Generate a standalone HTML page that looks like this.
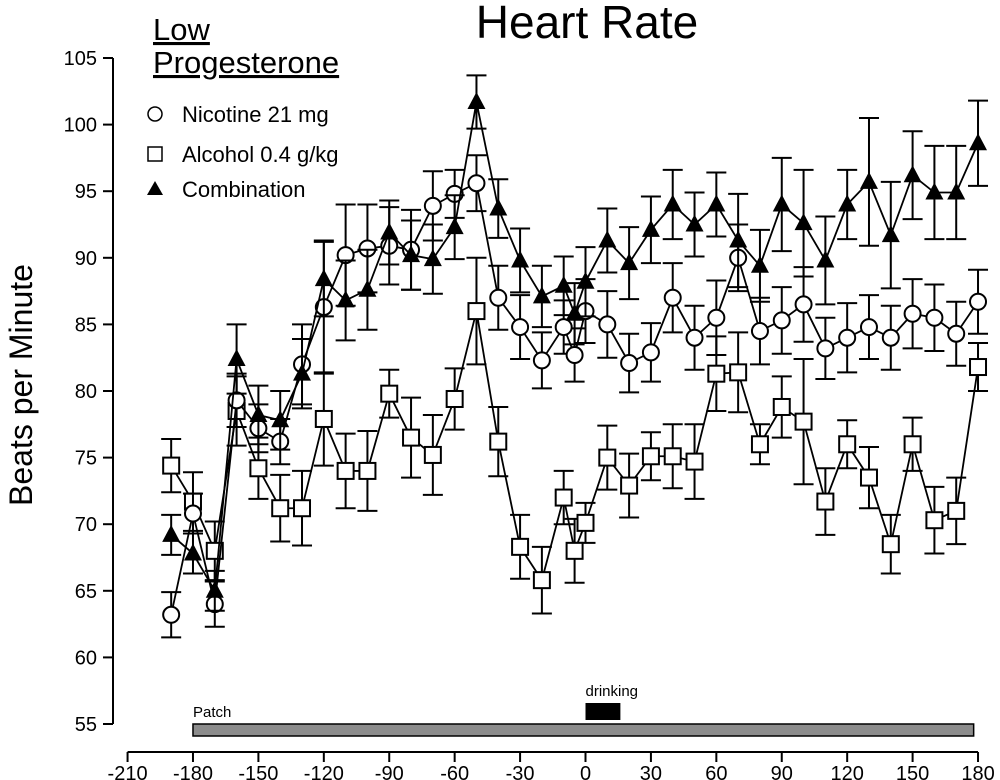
<!DOCTYPE html>
<html><head><meta charset="utf-8"><style>
body{margin:0;background:#fff}
svg{display:block;font-family:"Liberation Sans",sans-serif}
</style></head><body>
<svg id="chart" width="1000" height="780" viewBox="0 0 1000 780" xmlns="http://www.w3.org/2000/svg">
<text x="587" y="38" font-size="46" text-anchor="middle">Heart Rate</text>
<text transform="translate(32,385) rotate(-90)" font-size="32" text-anchor="middle">Beats per Minute</text>
<g>
<text x="153" y="40" font-size="31" text-decoration="underline">Low</text>
<text x="153" y="73" font-size="31" text-decoration="underline">Progesterone</text>
<circle cx="155" cy="114" r="7" fill="#fff" stroke="#000" stroke-width="1.5"/>
<text x="182" y="122" font-size="22">Nicotine 21 mg</text>
<rect x="148" y="147" width="14" height="14" fill="#fff" stroke="#000" stroke-width="1.5"/>
<text x="182" y="162" font-size="22">Alcohol 0.4 g/kg</text>
<polygon points="155,181 163,195 147,195" fill="#000"/>
<text x="182" y="197" font-size="22">Combination</text>
</g>
<g id="axes"></g>
<g id="marks"></g>
</svg>
<script>
const times=[-190,-180,-170,-160,-150,-140,-130,-120,-110,-100,-90,-80,-70,-60,-50,-40,-30,-20,-10,-5,0,10,20,30,40,50,60,70,80,90,100,110,120,130,140,150,160,170,180];
const nicotine=[63.2,70.8,64,79.3,77.2,76.2,82,86.3,90.2,90.7,90.9,90.6,93.9,94.8,95.6,87,84.8,82.3,84.8,82.7,86,85,82.1,82.9,87,84,85.5,90,84.5,85.3,86.5,83.2,84,84.8,84,85.8,85.5,84.3,86.7];
const nicotineErr=[1.7,1.5,1.7,2,1.8,1.7,3,5,3.8,3.3,2.9,3,2.6,1.8,2.1,2.4,2.4,2.1,2,2,2.4,2.5,2.2,2.2,2.6,2.4,2.8,2.5,2.5,2.5,2.8,2.3,2.6,2.4,2.4,2.6,2.5,2.4,2.4];
const alcohol=[74.4,71.7,68,78.5,74.2,71.2,71.2,77.9,74,74,79.8,76.5,75.2,79.4,86,76.2,68.3,65.8,72,68,70.1,75,72.9,75.1,75.1,74.7,81.3,81.4,76,78.8,77.7,71.7,76,73.5,68.5,76,70.3,71,81.8];
const alcoholErr=[2,2.2,2.2,2.6,2.3,2.5,2.8,3.5,2.8,3,1.8,3,3,2.3,4,2.6,2.4,2.5,2,2.4,1.5,2.4,2.4,1.8,2.4,2.8,2.8,3,1.5,2.3,4.7,2.5,1.8,2.3,2.2,2,2.5,2.5,1.8];
const combo=[69.2,67.8,65,82.4,78.2,77.8,81.3,88.4,86.8,87.6,91.9,90.2,89.9,92.3,101.7,93.7,89.8,87.1,87.9,85.8,88.2,91.3,89.6,92.1,94,92.5,94,91.3,89.4,94,92.6,89.8,94,95.7,91.7,96.2,94.9,94.9,98.6];
const comboErr=[1.5,1.5,1.5,2.6,2.2,2.2,2.6,2.8,3,3,2.4,2.6,2.6,2.4,2,2.2,2.4,2.3,2.2,2.3,2.6,2.4,2.7,2.5,2.6,2.4,2.4,3.5,2.7,3.5,4,3.3,2.6,4.8,4,3.3,3.5,3.5,3.2];
const xTicks=[-210,-180,-150,-120,-90,-60,-30,0,30,60,90,120,150,180];
const yTicks=[55,60,65,70,75,80,85,90,95,100,105];
const X=v=>585.5+v*(65.42/30);
const Y=v=>724-(v-55)*13.32;
const NS="http://www.w3.org/2000/svg";
function mk(tag,attrs,parent){const e=document.createElementNS(NS,tag);for(const k in attrs)e.setAttribute(k,attrs[k]);parent.appendChild(e);return e;}
const axes=document.getElementById('axes'),marks=document.getElementById('marks');
let a=mk('line',{x1:113,y1:Y(105),x2:113,y2:Y(55),stroke:'#000','stroke-width':2},axes);


yTicks.forEach(t=>{
 let l=mk('line',{x1:103,y1:Y(t),x2:113,y2:Y(t),stroke:'#000','stroke-width':2},axes);
 
 
 let tx=mk('text',{x:97,y:Y(t)+7,'font-size':20,'text-anchor':'end'},axes);tx.textContent=t;
 
 
});
a=mk('line',{x1:X(-210),y1:752,x2:X(180),y2:752,stroke:'#000','stroke-width':2},axes);


xTicks.forEach(t=>{
 let l=mk('line',{x1:X(t),y1:752,x2:X(t),y2:762,stroke:'#000','stroke-width':2},axes);
 
 
 let tx=mk('text',{x:X(t),y:780,'font-size':20,'text-anchor':'middle'},axes);tx.textContent=t;
 
 
});
let pb=mk('rect',{x:X(-180),y:724,width:X(178)-X(-180),height:12,fill:'#8c8c8c',stroke:'#000','stroke-width':1.5},axes);


let pt=mk('text',{x:X(-180),y:717,'font-size':15},axes);pt.textContent='Patch';


let db=mk('rect',{x:X(0),y:703,width:X(16)-X(0),height:17,fill:'#000'},axes);


let dt=mk('text',{x:X(0),y:696,'font-size':15},axes);dt.textContent='drinking';


function series(vals,errs,shape,name){
 const g=mk('g',{},marks);
 
 
 vals.forEach((v,i)=>{const x=X(times[i]);
  [1,-1].forEach(s=>{const y2=Y(v+s*errs[i]);
   let e=mk('path',{d:`M${x},${Y(v)}V${y2}M${x-10},${y2}H${x+10}`,stroke:'#000','stroke-width':2,fill:'none'},g);
   
   
  });
 });
 let l=mk('polyline',{points:vals.map((v,i)=>X(times[i])+','+Y(v)).join(' '),fill:'none',stroke:'#000','stroke-width':1.8},g);
 
 
 vals.forEach((v,i)=>{const x=X(times[i]),y=Y(v);let m;
  if(shape==='c')m=mk('circle',{cx:x,cy:y,r:8,fill:'#fff',stroke:'#000','stroke-width':2},g);
  else if(shape==='s')m=mk('rect',{x:x-8,y:y-8,width:16,height:16,fill:'#fff',stroke:'#000','stroke-width':2},g);
  else m=mk('polygon',{points:`${x},${y-10} ${x+9},${y+7} ${x-9},${y+7}`,fill:'#000'},g);
  
  
 });
}
series(alcohol,alcoholErr,'s','alcohol');
series(nicotine,nicotineErr,'c','nicotine');
series(combo,comboErr,'t','combination');
</script>
</body></html>
